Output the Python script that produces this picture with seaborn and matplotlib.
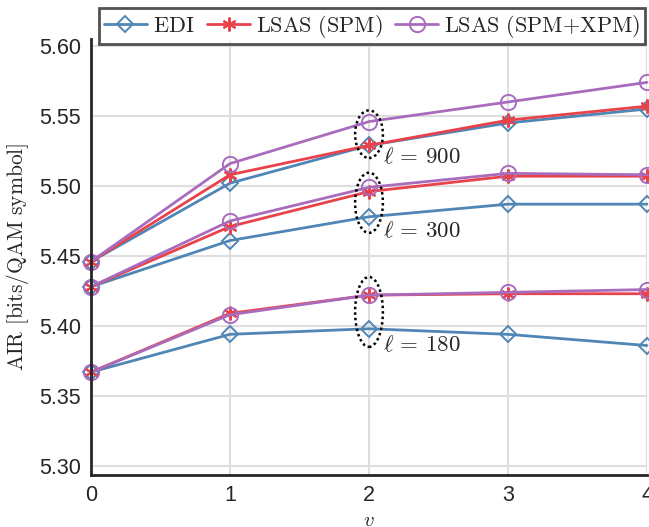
import numpy as np
import pandas as pd
import matplotlib
matplotlib.use("Agg")
import matplotlib.pyplot as plt
import seaborn as sns
from matplotlib.patches import Ellipse

# values
V = [0, 1, 2, 3, 4]
EDI_900 = [5.446, 5.502, 5.529, 5.545, 5.555]
SPM_900 = [5.446, 5.508, 5.529, 5.547, 5.557]
XPM_900 = [5.446, 5.516, 5.546, 5.560, 5.574]
EDI_300 = [5.428, 5.461, 5.478, 5.487, 5.487]
SPM_300 = [5.428, 5.471, 5.496, 5.507, 5.507]
XPM_300 = [5.428, 5.475, 5.499, 5.509, 5.508]
EDI_180 = [5.367, 5.394, 5.398, 5.394, 5.386]
SPM_180 = [5.367, 5.409, 5.422, 5.423, 5.423]
XPM_180 = [5.367, 5.408, 5.422, 5.424, 5.426]
LENGTHS = ["900", "300", "180"]
SCHEMES = [r"$\mathrm{EDI}$", r"$\mathrm{LSAS\ (SPM)}$", r"$\mathrm{LSAS\ (SPM{+}XPM)}$"]

BLUE = "#4f86b5"
RED = "#e8434b"
PURPLE = "#a96cbd"


def main():
    sns.set_style("white")
    plt.rcParams["font.family"] = ["Liberation Sans", "DejaVu Sans"]
    plt.rcParams["mathtext.fontset"] = "cm"

    fig = plt.figure(figsize=(6.49, 5.27), dpi=100)
    ax = fig.add_axes([91 / 649, 52 / 527, 556 / 649, 436 / 527])

    groups = [
        (EDI_900, SPM_900, XPM_900),
        (EDI_300, SPM_300, XPM_300),
        (EDI_180, SPM_180, XPM_180),
    ]
    styles = [
        dict(color=BLUE, marker="D", markersize=8, markerfacecolor="none",
             markeredgecolor=BLUE, markeredgewidth=1.4),
        dict(color=RED, marker=(6, 2, 0), markersize=10, markerfacecolor=RED,
             markeredgecolor=RED, markeredgewidth=1.5),
        dict(color=PURPLE, marker="o", markersize=11, markerfacecolor="none",
             markeredgecolor=PURPLE, markeredgewidth=1.4),
    ]
    for gi, group in enumerate(groups):
        for si, vals in enumerate(group):
            df = pd.DataFrame({"v": V, "air": vals})
            sns.lineplot(data=df, x="v", y="air", ax=ax, linewidth=2,
                         label=SCHEMES[si] if gi == 0 else None,
                         clip_on=False, **styles[si])

    # dotted ellipses around v = 2
    for cy, h in [(5.537, 0.034), (5.488, 0.043), (5.410, 0.050)]:
        ax.add_patch(Ellipse((2, cy), 0.2, h, fill=False, edgecolor="black",
                             linestyle=(0, (1, 1.2)), linewidth=1.8, zorder=5))
    for lbl, ty in zip(LENGTHS, [5.5207, 5.468, 5.3864]):
        ax.text(2.1, ty, rf"$\ell\, =\, {lbl}$", fontsize=16.5, va="center", ha="left")

    ax.set_xlim(0, 4)
    ax.set_ylim(5.2935, 5.605)
    ax.set_xticks(V)
    ax.set_yticks([5.30, 5.35, 5.40, 5.45, 5.50, 5.55, 5.60])
    ax.set_yticklabels([f"{t:.2f}" for t in ax.get_yticks()])
    ax.tick_params(axis="both", direction="in", length=5, width=1.8,
                   labelsize=15.5, colors="#262626", pad=7)
    ax.grid(True, color="#dedede", linewidth=1.5)
    ax.set_axisbelow(True)
    for side in ["top", "right"]:
        ax.spines[side].set_visible(False)
    for side in ["left", "bottom"]:
        ax.spines[side].set_color("#262626")
        ax.spines[side].set_linewidth(2)

    ax.set_xlabel(r"$v$", fontsize=15, labelpad=4)
    ax.set_ylabel(r"$\mathrm{AIR\ [bits/QAM\ symbol]}$", fontsize=15.5, labelpad=6)

    leg = ax.legend(loc="lower right", bbox_to_anchor=(0.9964, 0.9885), ncol=3,
                    fontsize=16, frameon=True, fancybox=False,
                    handlelength=1.95, handletextpad=0.27, columnspacing=0.55,
                    borderpad=0.2, borderaxespad=0)
    leg.get_frame().set_edgecolor("#262626")
    leg.get_frame().set_linewidth(2)

    fig.savefig("out.png", dpi=100)


if __name__ == "__main__":
    main()
